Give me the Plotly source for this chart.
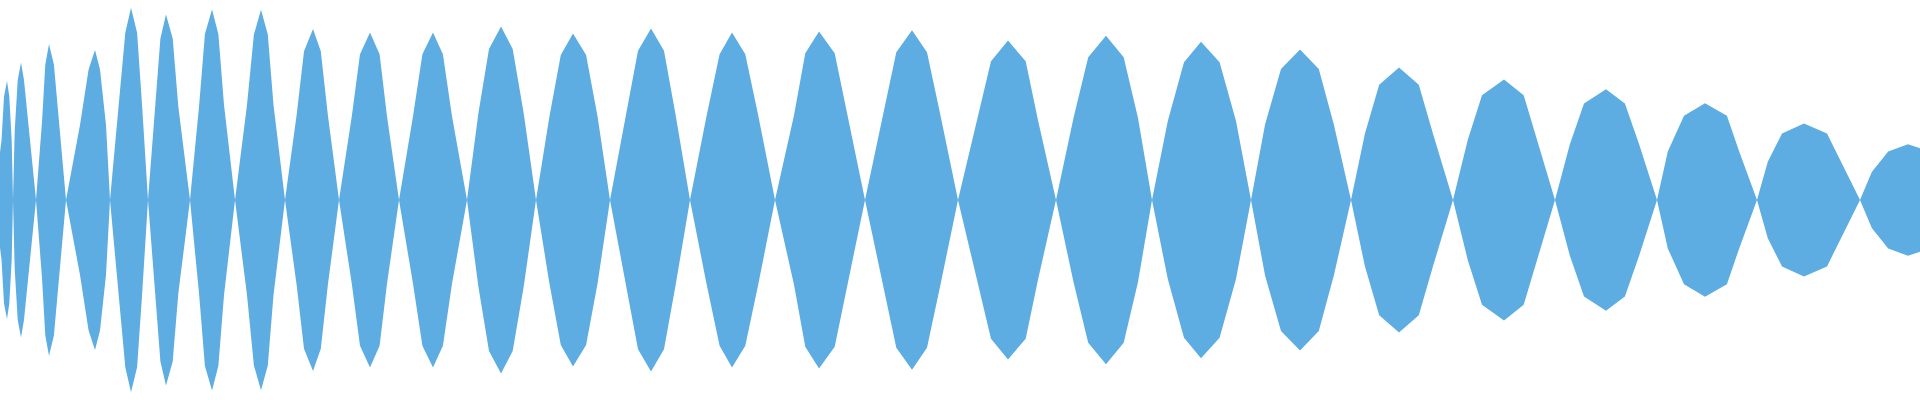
import plotly.graph_objects as go

# zero crossings of the envelope (sample position)
nodes = [-6, 13, 36, 66, 110, 148, 190, 235, 285, 339, 399, 467, 536, 610, 690,
         775, 865, 958, 1056, 1152, 1251, 1351, 1453, 1555, 1657, 1757, 1860, 1962]
# position of each lobe's maximum
peak_pos = [7, 21, 49, 95, 131, 166, 212, 261, 313, 370, 433, 501, 573, 651, 732,
            819, 912, 1008, 1106, 1201, 1300, 1399, 1504, 1606, 1705, 1804, 1908]
# envelope amplitude of each lobe
peak_amp = [0.595, 0.688, 0.779, 0.750, 0.961, 0.928, 0.953, 0.951, 0.855, 0.838,
            0.838, 0.868, 0.833, 0.858, 0.838, 0.843, 0.849, 0.797, 0.821, 0.791,
            0.753, 0.663, 0.602, 0.554, 0.484, 0.382, 0.279]
# where each lobe crosses 50% of its amplitude (left / right side)
half_left = [1.5, 14.7, 42, 80, 118.4, 155, 199.2, 247, 296.7, 351.8, 413, 478.4, 549.4, 626,
             706.5, 793.9, 883.3, 976.7, 1073.5, 1167.8, 1265, 1364.9, 1467.8, 1569.8, 1667.8,
             1767.8, 1871.8]
half_right = [11.7, 29.3, 59, 106, 142, 178.4, 224, 273.5, 327.8, 387, 452, 523.7, 597.6, 675.5,
              758.4, 847.3, 940.4, 1038, 1138, 1236, 1333.9, 1433, 1537, 1639.2, 1739.2,
              1841.2, 1942]
# where each lobe crosses 87% of its amplitude
top_left = [4, 17.7, 45.3, 88.6, 125.3, 160.4, 204.9, 253.9, 304, 360, 422.4, 489, 560.8, 638,
            719.6, 805.3, 896.3, 991, 1088.2, 1184, 1281, 1379.2, 1482, 1584, 1684, 1782, 1888.2]
top_right = [9.3, 24, 53.9, 100, 137.1, 172.7, 218.4, 267.8, 320.8, 379.6, 442.9, 512.7, 586.1,
             664, 745.3, 834.7, 927, 1025.7, 1123.7, 1219.6, 1318.8, 1418.8, 1523.7, 1624.9,
             1726.9, 1827, 1929]

color = '#5DADE2'

xs, up, lo = [], [], []
for i in range(len(peak_pos)):
    a = peak_amp[i]
    xs += [nodes[i], half_left[i], top_left[i], peak_pos[i], top_right[i], half_right[i], nodes[i + 1], None]
    lv = [0, 0.5 * a, 0.87 * a, a, 0.87 * a, 0.5 * a, 0]
    up += lv + [None]
    lo += [-v for v in lv] + [None]

fig = go.Figure()
for ys in (up, lo):
    fig.add_trace(go.Scatter(x=xs, y=ys, mode='lines', line=dict(width=0, color=color),
                             fill='tozeroy', fillcolor=color, connectgaps=False, hoverinfo='skip'))

fig.update_layout(width=1920, height=400, margin=dict(l=0, r=0, t=0, b=0),
                  paper_bgcolor='white', plot_bgcolor='white', showlegend=False,
                  xaxis=dict(range=[0, 1920], visible=False),
                  yaxis=dict(range=[-1, 1], visible=False))
fig.write_html("out.html", config={'displayModeBar': False},
               post_script="document.body.style.margin='0';")
